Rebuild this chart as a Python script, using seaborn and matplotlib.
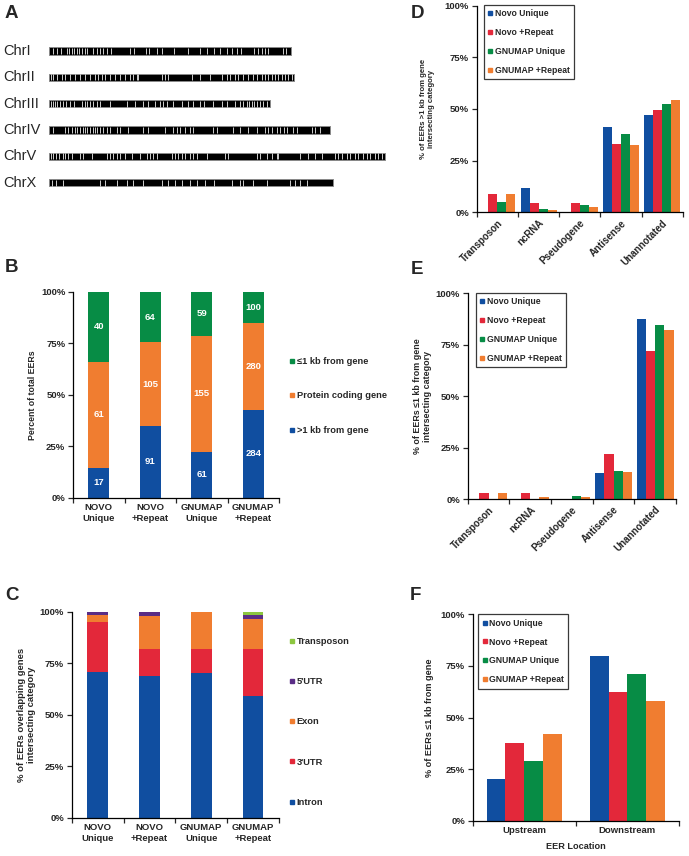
import matplotlib
matplotlib.use("Agg")
import matplotlib.pyplot as plt
from matplotlib.lines import Line2D
import numpy as np
import pandas as pd
import seaborn as sns

sns.set_style("ticks")
plt.rcParams['font.family'] = ['Liberation Sans', 'DejaVu Sans']

# ---------------- data ----------------
chrom_names = ["ChrI", "ChrII", "ChrIII", "ChrIV", "ChrV", "ChrX"]
chrom_len = [15.07, 15.28, 13.78, 17.49, 20.92, 17.72]  # Mb
eer_chrI = [0.27, 0.52, 0.75, 1.10, 1.27, 1.41, 1.56, 1.73, 1.89, 2.04, 2.25, 2.39, 2.77, 2.97,
            3.18, 3.39, 3.64, 3.87, 5.05, 5.30, 6.03, 6.24, 6.72, 7.07, 7.80, 8.69, 9.42, 9.83,
            10.29, 10.67, 11.08, 11.43, 11.75, 11.95, 12.79, 13.06, 13.26, 13.47, 13.68, 14.57, 14.78]
eer_chrII = [0.10, 0.27, 0.48, 0.79, 1.00, 1.31, 1.62, 1.93, 2.25, 2.56, 2.87, 3.08, 3.28, 3.49,
             3.80, 4.12, 4.43, 4.74, 5.05, 5.26, 5.47, 5.57, 7.03, 7.23, 7.44, 8.90, 9.42, 10.04,
             10.77, 11.08, 11.29, 11.60, 11.81, 12.12, 12.43, 12.74, 12.95, 13.26, 13.47, 13.68,
             13.89, 14.10, 14.30, 14.51, 14.72, 14.93, 15.14]
eer_chrIII = [0.10, 0.23, 0.37, 0.52, 0.69, 0.89, 1.06, 1.31, 1.56, 2.04, 2.25, 2.39, 2.56, 2.77,
              2.97, 3.18, 3.80, 4.84, 5.36, 5.88, 6.20, 6.61, 6.92, 7.13, 7.34, 7.75, 8.27, 8.69,
              9.00, 9.42, 9.67, 10.25, 10.77, 11.08, 11.60, 11.91, 12.12, 12.33, 12.49, 12.64,
              12.79, 12.95, 13.16, 13.37, 13.58]
eer_chrIV = [0.27, 1.00, 1.21, 1.41, 1.62, 1.77, 1.93, 2.10, 2.25, 2.39, 2.56, 2.72, 2.87, 3.01,
             3.18, 3.39, 3.60, 3.80, 4.22, 4.43, 4.95, 5.88, 6.20, 7.23, 7.75, 7.96, 8.17, 8.48,
             8.79, 9.00, 10.25, 10.46, 11.50, 11.91, 12.43, 12.95, 13.47, 13.68, 13.89, 14.20,
             14.41, 14.62, 14.82, 15.24, 15.45, 16.38, 16.59, 16.90]
eer_chrV = [0.10, 0.27, 0.44, 0.64, 0.85, 1.00, 1.21, 1.41, 1.93, 2.14, 2.66, 3.60, 3.80, 4.01,
            4.22, 4.43, 4.74, 5.16, 5.68, 6.09, 6.30, 6.51, 6.72, 7.65, 7.86, 8.07, 8.27, 8.48,
            8.79, 9.00, 9.21, 9.83, 10.98, 11.19, 12.95, 13.16, 13.58, 13.89, 14.20, 14.30, 15.65,
            16.17, 16.58, 17.00, 17.83, 18.04, 18.25, 18.56, 18.77, 19.08, 19.28, 19.60, 19.81,
            20.01, 20.32, 20.53, 20.74]
eer_chrX = [0.19, 0.44, 0.87, 3.18, 3.49, 4.24, 4.86, 5.24, 5.86, 7.04, 7.42, 7.86, 8.29, 8.79,
            9.23, 9.73, 10.29, 11.41, 11.91, 12.09, 12.72, 13.59, 15.03, 15.34, 15.65, 16.08]
eer_positions = [eer_chrI, eer_chrII, eer_chrIII, eer_chrIV, eer_chrV, eer_chrX]

methods = ["NOVO\nUnique", "NOVO\n+Repeat", "GNUMAP\nUnique", "GNUMAP\n+Repeat"]
series = ["Novo Unique", "Novo +Repeat", "GNUMAP Unique", "GNUMAP +Repeat"]

# panel B counts
b_far = [17, 91, 61, 284]       # >1 kb from gene
b_coding = [61, 105, 155, 280]  # protein coding gene
b_near = [40, 64, 59, 100]      # <=1 kb from gene

# panel C percentages
c_intron = [70.5, 68.6, 70.3, 58.9]
c_utr3 = [24.6, 13.3, 11.6, 23.2]
c_exon = [3.3, 16.2, 18.1, 14.3]
c_utr5 = [1.6, 1.9, 0.0, 1.8]
c_transposon = [0.0, 0.0, 0.0, 1.8]

# panels D/E
de_categories = ["Transposon", "ncRNA", "Pseudogene", "Antisense", "Unannotated"]
d_novo_unique = [0.0, 11.8, 0.0, 41.2, 47.1]
d_novo_repeat = [8.8, 4.4, 4.4, 33.0, 49.5]
d_gnumap_unique = [4.9, 1.6, 3.3, 37.7, 52.5]
d_gnumap_repeat = [9.0, 1.1, 2.6, 32.7, 54.2]

e_novo_unique = [0.0, 0.0, 0.0, 12.5, 87.5]
e_novo_repeat = [3.1, 3.1, 0.0, 21.9, 71.9]
e_gnumap_unique = [0.0, 0.0, 1.7, 13.6, 84.7]
e_gnumap_repeat = [3.0, 1.0, 1.0, 13.0, 82.0]

# panel F
f_categories = ["Upstream", "Downstream"]
f_novo_unique = [20.0, 80.0]
f_novo_repeat = [37.5, 62.5]
f_gnumap_unique = [28.8, 71.2]
f_gnumap_repeat = [42.0, 58.0]

# ---------------- style ----------------
BLUE = "#104EA0"
RED = "#E3283A"
GREEN = "#078C45"
ORANGE = "#F07D30"
PURPLE = "#5A2D86"
LIGHTGREEN = "#8CC63F"
pal4 = [BLUE, RED, GREEN, ORANGE]

W, H = 689, 856
fig = plt.figure(figsize=(W / 100, H / 100), dpi=100)


def px_rect(l, t, r, b):
    return [l / W, 1 - b / H, (r - l) / W, (b - t) / H]


TICK_FS = 6.8
BOLD = dict(weight="bold")


def style_axes(ax, labels, rotate=False):
    n = len(labels)
    sns.despine(ax=ax)
    for s in ["left", "bottom"]:
        ax.spines[s].set_linewidth(0.9)
        ax.spines[s].set_color("black")
    ax.set_xlim(-0.5, n - 0.5)
    ax.set_ylim(0, 100)
    ax.set_yticks([0, 25, 50, 75, 100])
    ax.set_yticklabels(["0%", "25%", "50%", "75%", "100%"], fontsize=TICK_FS, **BOLD)
    ax.set_xticks(range(n))
    if rotate:
        ax.set_xticklabels(labels, fontsize=7, rotation=45, ha="right",
                           rotation_mode="anchor", **BOLD)
    else:
        ax.set_xticklabels(labels, fontsize=TICK_FS, **BOLD)
    ax.set_xticks(np.arange(n + 1) - 0.5, minor=True)
    ax.tick_params(axis="x", which="major", length=0, pad=4)
    ax.tick_params(axis="x", which="minor", length=3.5, width=0.9, direction="out")
    ax.tick_params(axis="y", length=3.5, width=0.9, pad=2)
    ax.set_xlabel("")
    ax.set_ylabel("")


def marker_handles(colors):
    return [Line2D([], [], marker="s", ls="", color=c, markersize=3.2) for c in colors]


# ---------------- panel A ----------------
axA = fig.add_axes(px_rect(49, 37.8, 49 + 21 * 16.04, 195.9))
sns.barplot(x=chrom_len, y=chrom_names, orient="h", color="black", width=0.27,
            saturation=1, edgecolor="#8a8a8a", linewidth=0.7, ax=axA)
for i, pos in enumerate(eer_positions):
    axA.vlines(pos, i - 0.11, i + 0.11, color="#f2f2f2", lw=0.6)
axA.set_xlim(0, 21)
axA.set_ylim(5.5, -0.5)
axA.axis("off")
for i, name in enumerate(chrom_names):
    axA.text(-2.87, i, name, ha="left", va="center", fontsize=10.5)

# ---------------- panel B ----------------
axB = fig.add_axes(px_rect(73, 291.7, 279, 497.7))
tot = np.array(b_far) + np.array(b_coding) + np.array(b_near)
far_pct = np.array(b_far) / tot * 100
coding_pct = np.array(b_coding) / tot * 100
near_pct = np.array(b_near) / tot * 100
for vals, col in [(far_pct + coding_pct + near_pct, GREEN), (far_pct + coding_pct, ORANGE),
                  (far_pct, BLUE)]:
    sns.barplot(x=methods, y=vals, color=col, width=0.4, saturation=1, linewidth=0,
                ax=axB, order=methods)
for i in range(len(methods)):
    axB.text(i, far_pct[i] / 2, str(b_far[i]), color="white", ha="center", va="center",
             fontsize=6.8, **BOLD)
    axB.text(i, far_pct[i] + coding_pct[i] / 2, str(b_coding[i]), color="white",
             ha="center", va="center", fontsize=6.8, **BOLD)
    axB.text(i, far_pct[i] + coding_pct[i] + near_pct[i] / 2, str(b_near[i]), color="white",
             ha="center", va="center", fontsize=6.8, **BOLD)
style_axes(axB, methods)
axB.set_ylabel("Percent of total EERs", fontsize=6.3, **BOLD)
axB.yaxis.set_label_coords(-0.175, 0.5)
axB.legend(marker_handles([GREEN, ORANGE, BLUE]),
           ["\u22641 kb from gene", "Protein coding gene", ">1 kb from gene"],
           loc="center left", bbox_to_anchor=(1.05, 0.494), frameon=False,
           handlelength=0.5, handletextpad=0.3, labelspacing=2.75, borderaxespad=0,
           borderpad=0, prop=dict(weight="bold", size=6.7))

# ---------------- panel C ----------------
axC = fig.add_axes(px_rect(71.7, 611.7, 279, 817.7))
c_layers = [c_intron, c_utr3, c_exon, c_utr5, c_transposon]
c_colors = [BLUE, RED, ORANGE, PURPLE, LIGHTGREEN]
c_cum = np.cumsum(np.array(c_layers), axis=0)
for k in range(len(c_layers) - 1, -1, -1):
    sns.barplot(x=methods, y=c_cum[k], color=c_colors[k], width=0.4, saturation=1,
                linewidth=0, ax=axC, order=methods)
style_axes(axC, methods)
axC.set_ylabel("% of EERs overlapping genes\nintersecting category", fontsize=6.8, **BOLD)
axC.yaxis.set_label_coords(-0.17, 0.5)
axC.legend(marker_handles(c_colors[::-1]),
           ["Transposon", "5'UTR", "Exon", "3'UTR", "Intron"],
           loc="center left", bbox_to_anchor=(1.05, 0.465), frameon=False,
           handlelength=0.5, handletextpad=0.3, labelspacing=3.35, borderaxespad=0,
           borderpad=0, prop=dict(weight="bold", size=6.7))


# ---------------- grouped panels D/E/F ----------------
def grouped(ax, cats, cols, width, ylabel, ylabel_fs, label_x, leg_anchor, rotate):
    df = pd.DataFrame({
        "category": np.repeat(cats, len(series)),
        "method": series * len(cats),
        "value": np.array(cols).T.flatten(),
    })
    sns.barplot(data=df, x="category", y="value", hue="method", order=cats,
                hue_order=series, palette=pal4, width=width, saturation=1,
                linewidth=0, errorbar=None, ax=ax)
    style_axes(ax, cats, rotate=rotate)
    ax.set_ylabel(ylabel, fontsize=ylabel_fs, **BOLD)
    ax.yaxis.set_label_coords(label_x, 0.5)
    leg = ax.legend(marker_handles(pal4), series, loc="upper left",
                    bbox_to_anchor=leg_anchor, frameon=True, fancybox=False,
                    edgecolor="#3a3a3a", framealpha=1, handlelength=0.5,
                    handletextpad=0.3, labelspacing=1.15, borderaxespad=0,
                    borderpad=0.5, prop=dict(weight="bold", size=6.2))
    leg.get_frame().set_linewidth(0.9)


axD = fig.add_axes(px_rect(476.7, 5.7, 683, 212.3))
grouped(axD, de_categories,
        [d_novo_unique, d_novo_repeat, d_gnumap_unique, d_gnumap_repeat], 0.87,
        "% of EERs >1 kb from gene\nintersecting category", 5.6, -0.2, (0.035, 1.003), True)

axE = fig.add_axes(px_rect(467.7, 293.3, 676, 499))
grouped(axE, de_categories,
        [e_novo_unique, e_novo_repeat, e_gnumap_unique, e_gnumap_repeat], 0.88,
        "% of EERs \u22641 kb from gene\nintersecting category", 6.4, -0.17, (0.04, 1.003), True)

axF = fig.add_axes(px_rect(472.7, 614.3, 679, 820.7))
grouped(axF, f_categories,
        [f_novo_unique, f_novo_repeat, f_gnumap_unique, f_gnumap_repeat], 0.73,
        "% of EERs \u22641 kb from gene", 6.6, -0.19, (0.026, 1.0), False)
axF.set_xlabel("EER Location", fontsize=6.6, labelpad=5, **BOLD)

# ---------------- panel letters ----------------
for letter, x, y in [("A", 5, 13), ("B", 5, 268), ("C", 5, 596),
                     ("D", 411, 14), ("E", 411, 270), ("F", 410, 595)]:
    fig.text(x / W, 1 - y / H, letter, ha="left", va="center", fontsize=13.5, **BOLD)

fig.savefig("out.png", dpi=100)
